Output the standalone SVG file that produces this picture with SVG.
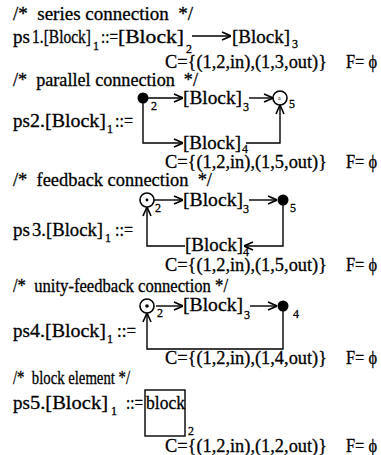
<svg xmlns="http://www.w3.org/2000/svg" width="381" height="455" viewBox="0 0 381 455">
<style>
text{font-family:"Liberation Serif","Times New Roman",serif;font-size:19px;fill:#000;stroke:#000;stroke-width:0.3}
.s{font-size:12px}
.t{font-size:6px;stroke-width:0}
.f{font-size:18px}
.ln{fill:none;stroke:#000;stroke-width:1.4}
.dot{fill:#000}
.oc{fill:#fff;stroke:#000;stroke-width:1.6}
</style>
<defs>
<marker id="ah" viewBox="0 0 10 10" refX="10" refY="5" markerWidth="10" markerHeight="10" markerUnits="userSpaceOnUse" orient="auto">
<path d="M1,1 L10,5 L1,9" fill="none" stroke="#000" stroke-width="1.6"/>
</marker>
</defs>

<g id="ps1">
<text x="13" y="20" textLength="180" lengthAdjust="spacingAndGlyphs" xml:space="preserve">/*  series connection  */</text>
<text x="13" y="43">ps</text><text x="32" y="43" font-size="18" textLength="59" lengthAdjust="spacingAndGlyphs">1.[Block]</text><text class="s" x="93" y="50">1</text>
<text x="101" y="43" textLength="17" lengthAdjust="spacingAndGlyphs">::=</text>
<text x="118" y="43" textLength="66" lengthAdjust="spacingAndGlyphs">[Block]</text><text class="s" x="186" y="53">2</text>
<text x="232" y="43" textLength="58" lengthAdjust="spacingAndGlyphs">[Block]</text><text class="s" x="292" y="48">3</text>
<text x="165" y="68" textLength="162" lengthAdjust="spacingAndGlyphs">C={(1,2,in),(1,3,out)}</text><text x="346" y="68" textLength="31" lengthAdjust="spacingAndGlyphs">F= ϕ</text>
</g>

<g id="ps2">
<text x="13" y="86" textLength="185" lengthAdjust="spacingAndGlyphs" xml:space="preserve">/*  parallel connection  */</text>
<circle class="dot" cx="143" cy="98" r="5.5"/><text class="s" x="151" y="110">2</text>
<text x="183" y="104" textLength="59" lengthAdjust="spacingAndGlyphs">[Block]</text><text class="s" x="243" y="111">3</text>
<circle class="oc" cx="280" cy="98" r="7"/><text class="t" x="278" y="100">a</text><text class="s" x="289" y="108">5</text>
<text x="13" y="127">ps</text><text x="30" y="127" textLength="76" lengthAdjust="spacingAndGlyphs">2.[Block]</text><text class="s" x="107" y="133">1</text><text x="115" y="127" textLength="18" lengthAdjust="spacingAndGlyphs">::=</text>
<text x="183" y="149" textLength="58" lengthAdjust="spacingAndGlyphs">[Block]</text><text class="s" x="242" y="153">4</text>
<text x="165" y="168" textLength="162" lengthAdjust="spacingAndGlyphs">C={(1,2,in),(1,5,out)}</text><text x="346" y="168" textLength="31" lengthAdjust="spacingAndGlyphs">F= ϕ</text>
</g>

<g id="ps3">
<text x="13" y="186" textLength="199" lengthAdjust="spacingAndGlyphs" xml:space="preserve">/*  feedback connection  */</text>
<circle class="oc" cx="147" cy="200" r="7"/><circle class="dot" cx="147" cy="200" r="1.4"/><text class="s" x="155" y="212">2</text>
<text x="183" y="206" textLength="60" lengthAdjust="spacingAndGlyphs">[Block]</text><text class="s" x="243" y="213">3</text>
<circle class="dot" cx="283" cy="200" r="5.5"/><text class="s" x="290" y="212">5</text>
<text x="13" y="236">ps</text><text x="32" y="236" textLength="71" lengthAdjust="spacingAndGlyphs">3.[Block]</text><text class="s" x="105" y="242">1</text><text x="115" y="236" textLength="18" lengthAdjust="spacingAndGlyphs">::=</text>
<text x="185" y="251" textLength="58" lengthAdjust="spacingAndGlyphs">[Block]</text><text class="s" x="243" y="256">4</text>
<text x="165" y="271" textLength="162" lengthAdjust="spacingAndGlyphs">C={(1,2,in),(1,5,out)}</text><text x="346" y="271" textLength="31" lengthAdjust="spacingAndGlyphs">F= ϕ</text>
</g>

<g id="ps4">
<text class="f" x="13" y="292" textLength="215" lengthAdjust="spacingAndGlyphs" xml:space="preserve">/*  unity-feedback connection */</text>
<circle class="oc" cx="147" cy="306" r="7"/><circle class="dot" cx="147" cy="306" r="1.8"/><text class="s" x="157" y="317">2</text>
<text x="183" y="311" textLength="60" lengthAdjust="spacingAndGlyphs">[Block]</text><text class="s" x="244" y="319">3</text>
<circle class="dot" cx="283" cy="306" r="5.5"/><text class="s" x="293" y="318">4</text>
<text x="13" y="337">ps</text><text x="30" y="337" textLength="76" lengthAdjust="spacingAndGlyphs">4.[Block]</text><text class="s" x="107" y="343">1</text><text x="117" y="337" textLength="19" lengthAdjust="spacingAndGlyphs">::=</text>
<text x="165" y="364" textLength="162" lengthAdjust="spacingAndGlyphs">C={(1,2,in),(1,4,out)}</text><text x="346" y="364" textLength="31" lengthAdjust="spacingAndGlyphs">F= ϕ</text>
</g>

<g id="ps5">
<text x="13" y="384" font-size="16" textLength="117" lengthAdjust="spacingAndGlyphs" xml:space="preserve">/*  block element */</text>
<text x="13" y="409">ps</text><text x="30" y="409" textLength="78" lengthAdjust="spacingAndGlyphs">5.[Block]</text><text class="s" x="111" y="415">1</text><text x="126" y="409" textLength="17" lengthAdjust="spacingAndGlyphs">::=</text>
<rect x="145" y="390" width="40" height="46" fill="none" stroke="#000" stroke-width="1.4"/>
<text x="146" y="409" textLength="39" lengthAdjust="spacingAndGlyphs">block</text><text class="s" x="188" y="435">2</text>
<text x="165" y="452" textLength="162" lengthAdjust="spacingAndGlyphs">C={(1,2,in),(1,2,out)}</text><text x="346" y="452" textLength="31" lengthAdjust="spacingAndGlyphs">F= ϕ</text>
</g>

<g id="connectors">
<path class="ln" d="M192,36 H231" marker-end="url(#ah)"/>
<path class="ln" d="M148,98 H183" marker-end="url(#ah)"/>
<path class="ln" d="M143,98 V143 H183" marker-end="url(#ah)"/>
<path class="ln" d="M249,98 H273" marker-end="url(#ah)"/>
<path class="ln" d="M246,143 H280 V105" marker-end="url(#ah)"/>
<path class="ln" d="M154,200 H183" marker-end="url(#ah)"/>
<path class="ln" d="M249,200 H277" marker-end="url(#ah)"/>
<path class="ln" d="M283,200 V246 H244" marker-end="url(#ah)"/>
<path class="ln" d="M185,246 H147 V207" marker-end="url(#ah)"/>
<path class="ln" d="M156,306 H183" marker-end="url(#ah)"/>
<path class="ln" d="M250,306 H277" marker-end="url(#ah)"/>
<path class="ln" d="M283,306 V349 H147 V313" marker-end="url(#ah)"/>
</g>
</svg>
